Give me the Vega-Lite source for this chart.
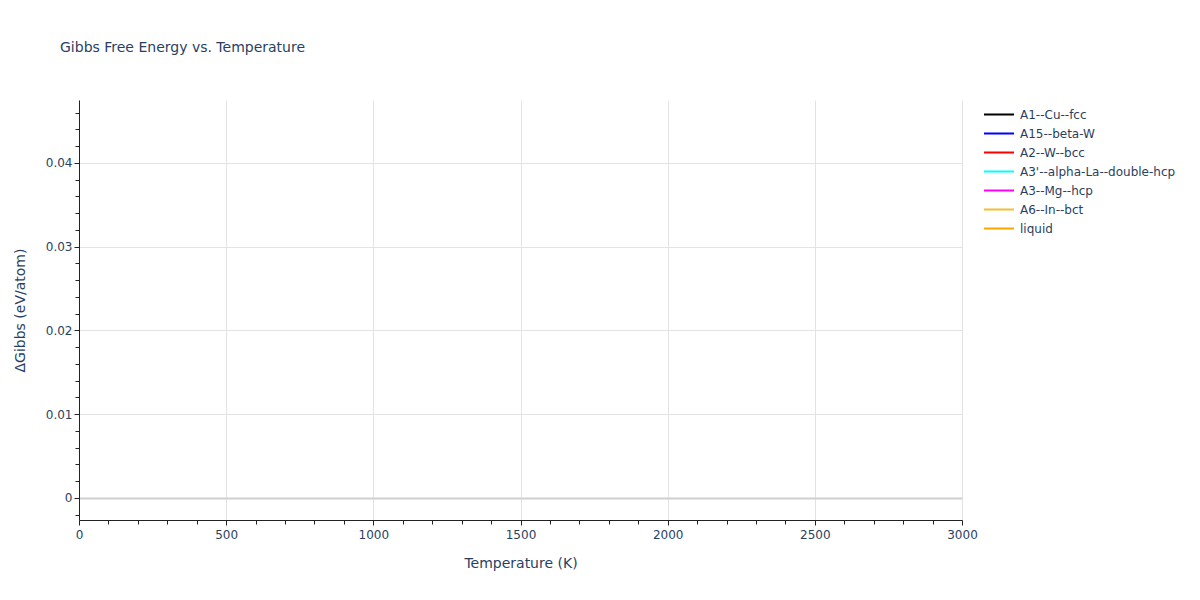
{
  "$schema": "https://vega.github.io/schema/vega-lite/v6.json",
  "width": 883,
  "height": 420,
  "autosize": {"type": "none"},
  "padding": {"left": 79, "top": 100, "right": 238, "bottom": 80},
  "background": "white",
  "title": {
    "text": "Gibbs Free Energy vs. Temperature",
    "anchor": "start",
    "frame": "group",
    "dx": -19,
    "dy": -41,
    "font": "DejaVu Sans",
    "fontSize": 14,
    "fontWeight": "normal",
    "color": "#2a3f5f"
  },
  "data": {
    "values": [
      {"phase": "A1--Cu--fcc", "T": 0, "dG": null},
      {"phase": "A15--beta-W", "T": 0, "dG": null},
      {"phase": "A2--W--bcc", "T": 0, "dG": null},
      {"phase": "A3'--alpha-La--double-hcp", "T": 0, "dG": null},
      {"phase": "A3--Mg--hcp", "T": 0, "dG": null},
      {"phase": "A6--In--bct", "T": 0, "dG": null},
      {"phase": "liquid", "T": 0, "dG": null}
    ]
  },
  "layer": [
    {
      "mark": {"type": "line", "strokeWidth": 2},
      "encoding": {
        "x": {
          "field": "T", "type": "quantitative",
          "scale": {"domain": [0, 3000], "nice": false, "zero": false},
          "axis": {
            "orient": "bottom",
            "title": "Temperature (K)",
            "values": [0, 500, 1000, 1500, 2000, 2500, 3000],
            "format": "d",
            "labelFlush": false,
            "grid": true,
            "gridColor": "#e3e3e3",
            "domainColor": "#222222",
            "tickColor": "#222222",
            "tickSize": 5,
            "labelFont": "DejaVu Sans",
            "labelFontSize": 12,
            "labelColor": "#2a3f5f",
            "labelPadding": 4,
            "titleFont": "DejaVu Sans",
            "titleFontSize": 14,
            "titleFontWeight": "normal",
            "titleColor": "#2a3f5f",
            "titlePadding": 16
          }
        },
        "y": {
          "field": "dG", "type": "quantitative",
          "scale": {"domain": [-0.00263, 0.04752], "nice": false, "zero": false},
          "axis": {
            "orient": "left",
            "title": "ΔGibbs (eV/atom)",
            "values": [0, 0.01, 0.02, 0.03, 0.04],
            "format": "~g",
            "grid": true,
            "gridColor": {"condition": {"test": "datum.value === 0", "value": "#cfcfcf"}, "value": "#e3e3e3"},
            "gridWidth": {"condition": {"test": "datum.value === 0", "value": 2}, "value": 1},
            "domainColor": "#222222",
            "tickColor": "#222222",
            "tickSize": 5,
            "labelFont": "DejaVu Sans",
            "labelFontSize": 12,
            "labelColor": "#2a3f5f",
            "labelPadding": 2,
            "titleFont": "DejaVu Sans",
            "titleFontSize": 14,
            "titleFontWeight": "normal",
            "titleColor": "#2a3f5f",
            "titlePadding": 18
          }
        },
        "color": {
          "field": "phase", "type": "nominal",
          "scale": {
            "domain": ["A1--Cu--fcc", "A15--beta-W", "A2--W--bcc", "A3'--alpha-La--double-hcp", "A3--Mg--hcp", "A6--In--bct", "liquid"],
            "range": ["#000000", "#0000ff", "#ff0000", "#00ffff", "#ff00ff", "#f0c030", "#ffa500"]
          },
          "legend": {
            "title": null,
            "orient": "none",
            "legendX": 904,
            "legendY": 5,
            "symbolType": "stroke",
            "symbolSize": 900,
            "symbolStrokeWidth": 2,
            "clipHeight": 19,
            "labelFont": "DejaVu Sans",
            "labelFontSize": 12,
            "labelColor": "#2a3f5f",
            "labelOffset": 5,
            "rowPadding": 0
          }
        }
      }
    },
    {
      "mark": {"type": "rule"},
      "encoding": {
        "x": {
          "field": "T", "type": "quantitative",
          "axis": {
            "orient": "bottom",
            "title": null,
            "values": [100, 200, 300, 400, 600, 700, 800, 900, 1100, 1200, 1300, 1400, 1600, 1700, 1800, 1900, 2100, 2200, 2300, 2400, 2600, 2700, 2800, 2900],
            "labels": false,
            "grid": false,
            "domain": false,
            "tickColor": "#222222",
            "tickSize": 4
          }
        },
        "y": {
          "field": "dG", "type": "quantitative",
          "axis": {
            "orient": "left",
            "title": null,
            "values": [-0.002, 0.002, 0.004, 0.006, 0.008, 0.012, 0.014, 0.016, 0.018, 0.022, 0.024, 0.026, 0.028, 0.032, 0.034, 0.036, 0.038, 0.042, 0.044, 0.046],
            "labels": false,
            "grid": false,
            "domain": false,
            "tickColor": "#222222",
            "tickSize": 4
          }
        }
      }
    }
  ],
  "resolve": {"axis": {"x": "independent", "y": "independent"}},
  "config": {"view": {"stroke": null}}
}
